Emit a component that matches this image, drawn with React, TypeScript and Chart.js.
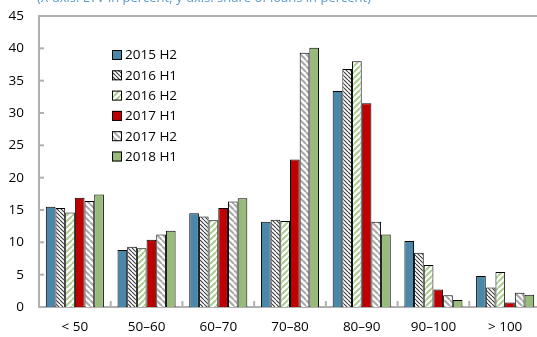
import React, { useEffect, useRef } from "react";
import { Chart, registerables } from "chart.js";

Chart.register(...registerables);

const categories = ["< 50", "50–60", "60–70", "70–80", "80–90", "90–100", "> 100"];
const seriesLabels = ["2015 H2", "2016 H1", "2016 H2", "2017 H1", "2017 H2", "2018 H1"];
const s2015H2 = [15.5, 8.8, 14.5, 13.2, 33.4, 10.2, 4.8];
const s2016H1 = [15.3, 9.3, 14.0, 13.5, 36.8, 8.4, 3.0];
const s2016H2 = [14.6, 9.1, 13.4, 13.3, 38.0, 6.5, 5.4];
const s2017H1 = [16.9, 10.4, 15.3, 22.8, 31.5, 2.7, 0.7];
const s2017H2 = [16.4, 11.2, 16.3, 39.3, 13.2, 1.8, 2.2];
const s2018H1 = [17.4, 11.8, 16.8, 40.1, 11.2, 1.1, 1.9];
const yMin = 0;
const yMax = 45;
const yStep = 5;
const titleText = "(X-axis: LTV in percent; y-axis: share of loans in percent)";

const FONT = "'Open Sans', 'DejaVu Sans', sans-serif";
const AXIS = "#b0b0b0";

function hatch(bg: string, fg: string, size: number, lw: number, dir: "\\" | "/") {
  const c = document.createElement("canvas");
  c.width = size;
  c.height = size;
  const x = c.getContext("2d")!;
  x.fillStyle = bg;
  x.fillRect(0, 0, size, size);
  x.strokeStyle = fg;
  x.lineWidth = lw;
  x.beginPath();
  for (let k = -1; k <= 1; k++) {
    if (dir === "\\") {
      x.moveTo(k * size, 0);
      x.lineTo(k * size + size, size);
    } else {
      x.moveTo(k * size, size);
      x.lineTo(k * size + size, 0);
    }
  }
  x.stroke();
  return x.createPattern(c, "repeat") as CanvasPattern;
}

export default function App() {
  const ref = useRef<HTMLCanvasElement>(null);

  useEffect(() => {
    document.body.style.margin = "0";
    document.body.style.overflow = "hidden";
    const canvas = ref.current!;
    const fills: any[] = [
      "#4a87a9",
      hatch("#ffffff", "#3a3a3a", 4, 1.1, "\\"),
      hatch("#ffffff", "#a9cd8c", 6, 2, "/"),
      "#c00000",
      hatch("#ffffff", "#a8a8a8", 6, 2, "\\"),
      "#98bb7b",
    ];
    const series = [s2015H2, s2016H1, s2016H2, s2017H1, s2017H2, s2018H1];

    const decor = {
      id: "decor",
      afterDraw(chart: any) {
        const ctx = chart.ctx;
        const area = chart.chartArea;
        const left = area.left, right = area.right, top = area.top, bottom = area.bottom;
        const ys = chart.scales.y;
        const xs = chart.scales.x;
        ctx.save();
        ctx.globalAlpha = 1;
        ctx.fillStyle = AXIS;
        ctx.fillRect(left - 1, top - 1, 600, 2);
        for (let v = yMin + yStep; v < yMax; v += yStep) {
          const y = ys.getPixelForValue(v);
          ctx.fillRect(left, y - 1, 5, 2);
        }
        for (let i = 1; i < categories.length; i++) {
          const x = (xs.getPixelForValue(i - 1) + xs.getPixelForValue(i)) / 2;
          ctx.fillRect(x - 1, bottom - 6, 2, 6);
        }

        ctx.font = `13px ${FONT}`;
        ctx.fillStyle = "#5b9bd5";
        ctx.textBaseline = "alphabetic";
        ctx.textAlign = "left";
        ctx.fillText(titleText, 37, 2);
        ctx.font = `13.5px ${FONT}`;
        ctx.textBaseline = "middle";
        chart.data.datasets.forEach((ds: any, i: number) => {
          const y = 55 + i * 20.3;
          ctx.fillStyle = ds.backgroundColor;
          ctx.fillRect(112, y - 5, 10, 10);
          ctx.strokeStyle = "#000";
          ctx.lineWidth = 1;
          ctx.strokeRect(112.5, y - 4.5, 9, 9);
          ctx.fillStyle = "#000";
          ctx.fillText(ds.label, 125, y + 0.5);
        });
        ctx.restore();
      },
    };

    const chart = new Chart(canvas, {
      type: "bar",
      data: {
        labels: categories,
        datasets: series.map((d, i) => ({
          label: seriesLabels[i],
          data: d,
          backgroundColor: fills[i],
          borderColor: "#000",
          borderWidth: 1,
          categoryPercentage: 0.81,
          barPercentage: 1,
        })),
      },
      options: {
        responsive: false,
        animation: false,
        layout: { padding: { top: 16, right: 4, left: 0, bottom: 0 } },
        plugins: {
          legend: { display: false },
          tooltip: { enabled: false },
          title: { display: false },
        },
        scales: {
          x: {
            grid: { display: false, drawTicks: false },
            border: { display: true, color: AXIS, width: 2 },
            ticks: {
              color: "#000",
              font: { family: FONT, size: 13.5 },
              padding: 12,
              maxRotation: 0,
              autoSkip: false,
            },
            afterFit(scale: any) {
              scale.height = 30;
              scale.paddingLeft = 0;
              scale.paddingRight = 0;
            },
          },
          y: {
            min: yMin,
            max: yMax,
            grid: { display: false, drawTicks: false },
            border: { display: true, color: AXIS, width: 2 },
            ticks: {
              stepSize: yStep,
              color: "#000",
              font: { family: FONT, size: 13.5 },
              padding: 15,
            },
            afterFit(scale: any) {
              scale.width = 39;
              scale.paddingTop = 0;
              scale.paddingBottom = 0;
            },
          },
        },
      },
      plugins: [decor],
    } as any);

    return () => chart.destroy();
  }, []);

  return (
    <div style={{ position: "fixed", left: 0, top: 0, width: 537, height: 337, overflow: "hidden", background: "#fff" }}>
      <canvas ref={ref} width={545} height={337} style={{ display: "block" }} />
    </div>
  );
}
